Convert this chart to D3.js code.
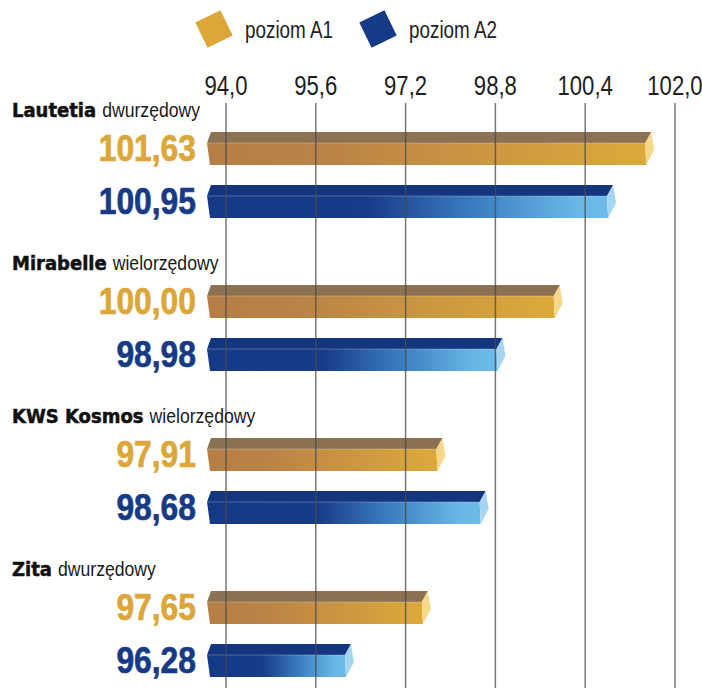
<!DOCTYPE html>
<html>
<head>
<meta charset="utf-8">
<script src="https://cdn.jsdelivr.net/npm/d3@7"></script>
<style>
  html, body { margin: 0; padding: 0; background: #fff; }
  svg { display: block; }
  .narrow { font-family: "Liberation Sans", Arial, sans-serif; }
  .cond { font-family: "DejaVu Sans Condensed", "DejaVu Sans", sans-serif; font-stretch: condensed; }
</style>
</head>
<body>
<svg id="chart" width="702" height="688"></svg>
<script>
// ---- data ----
const categories = ["Lautetia", "Mirabelle", "KWS Kosmos", "Zita"];
const subtitles = ["dwurzędowy", "wielorzędowy", "wielorzędowy", "dwurzędowy"];
const seriesNames = ["poziom A1", "poziom A2"];
const valuesA1 = [101.63, 100.00, 97.91, 97.65];
const valuesA2 = [100.95, 98.98, 98.68, 96.28];
const tickValues = [94.0, 95.6, 97.2, 98.8, 100.4, 102.0];
const tickLabels = ["94,0", "95,6", "97,2", "98,8", "100,4", "102,0"];

// ---- setup ----
const W = 702, H = 688;
const svg = d3.select("#chart");
const defs = svg.append("defs");
const SX = 0.82; // horizontal condensing of text

const gold = "#dca639", navy = "#173a86";
const seriesStyle = [
  { text: gold, top: "#8c7152", cap: "#f6d88a", grad: "gA" },
  { text: navy, top: "#14367f", cap: "#a4d6f4", grad: "gB" }
];

const gA = defs.append("linearGradient").attr("id", "gA").attr("x1", "0").attr("x2", "1").attr("y1", "0").attr("y2", "0");
[[0, "#b57e46"], [0.25, "#b98247"], [1, "#dcaa3b"]].forEach(s => gA.append("stop").attr("offset", s[0]).attr("stop-color", s[1]));
const gB = defs.append("linearGradient").attr("id", "gB").attr("x1", "0").attr("x2", "1").attr("y1", "0").attr("y2", "0");
[[0, "#163985"], [0.4, "#183b87"], [0.66, "#3a7cbf"], [0.92, "#68b7e6"], [1, "#6dbbe8"]].forEach(s => gB.append("stop").attr("offset", s[0]).attr("stop-color", s[1]));

const x = d3.scaleLinear().domain([tickValues[0], tickValues[tickValues.length - 1]]).range([226, 675]);
const yGroup = d3.scaleBand().domain(categories).range([96, 96 + 4 * 153]);
const ySeries = d3.scaleBand().domain(seriesNames).range([36, 36 + 2 * 53]);
const barH = 33, topH = 11;

const fmt = v => d3.format(".2f")(v).replace(".", ",");

function narrowText(parent, px, py, txt, sx) {
  return parent.append("text").attr("class", "narrow")
    .attr("transform", `translate(${px},${py}) scale(${sx || SX},1)`)
    .text(txt);
}

// ---- legend ----
const legendX = [214, 378];
seriesNames.forEach((name, i) => {
  const g = svg.append("g").attr("transform", `translate(${legendX[i]},29)`);
  g.append("rect").attr("x", -14).attr("y", -14).attr("width", 28).attr("height", 28)
    .attr("transform", "rotate(-26)")
    .attr("fill", i === 0 ? gold : navy);
  narrowText(g, 31, 9, name).attr("font-size", 23).attr("fill", "#222");
});

// ---- tick labels ----
const tg = svg.append("g");
tickValues.forEach((d, i) => {
  narrowText(tg, x(d), 95, tickLabels[i])
    .attr("text-anchor", "middle").attr("font-size", 27).attr("fill", "#1e1e1e");
});

// ---- bars ----
const rows = [];
categories.forEach((c, i) => {
  [valuesA1[i], valuesA2[i]].forEach((v, s) => rows.push({ cat: c, s, v }));
});

const barsG = svg.append("g");
const labelsG = svg.append("g");
const line = d3.line();
const x0 = x(tickValues[0]) - 19;
rows.forEach(r => {
  const st = seriesStyle[r.s];
  const yt = yGroup(r.cat) + ySeries(seriesNames[r.s]);
  const x1 = x(r.v) - 9;
  const g = barsG.append("g");
  g.append("path").attr("d", line([[x0, yt + topH], [x1, yt + topH], [x1 + 1, yt + barH], [x0 + 3, yt + barH]]) + "Z")
    .attr("fill", `url(#${st.grad})`);
  g.append("path").attr("d", line([[x0 + 4, yt], [x1 + 6, yt], [x1, yt + topH], [x0, yt + topH]]) + "Z")
    .attr("fill", st.top);
  g.append("path").attr("d", line([[x0, yt + topH], [x1, yt + topH]]))
    .attr("stroke", "rgba(255,255,255,0.25)").attr("stroke-width", 1);
  g.append("path").attr("d", line([[x1, yt + topH], [x1 + 6, yt], [x1 + 9, yt + 18], [x1 + 1, yt + barH]]) + "Z")
    .attr("fill", st.cap);
  narrowText(labelsG, 196, yt + barH - 4, fmt(r.v), 0.86)
    .attr("text-anchor", "end").attr("font-size", 37).attr("font-weight", "bold")
    .attr("fill", st.text).attr("stroke", st.text).attr("stroke-width", 0.7);
});

// ---- gridlines (over bars) ----
svg.append("g").selectAll("line").data(tickValues).join("line")
  .attr("x1", d => x(d)).attr("x2", d => x(d))
  .attr("y1", 103).attr("y2", H)
  .attr("stroke", "#4a4a4a").attr("stroke-width", 1.5).attr("stroke-opacity", 0.75);

// ---- category labels ----
const cg = svg.append("g");
categories.forEach((c, i) => {
  const y0 = yGroup(c) + 21;
  const t = cg.append("text").attr("class", "cond").attr("x", 12).attr("y", y0)
    .attr("font-weight", "bold").attr("font-size", 20).attr("fill", "#111")
    .attr("stroke", "#111").attr("stroke-width", 0.5).text(c);
  const w = t.node().getComputedTextLength();
  narrowText(cg, 12 + w + 6, y0, subtitles[i], 0.84).attr("font-size", 21).attr("fill", "#1a1a1a");
});
</script>
</body>
</html>
